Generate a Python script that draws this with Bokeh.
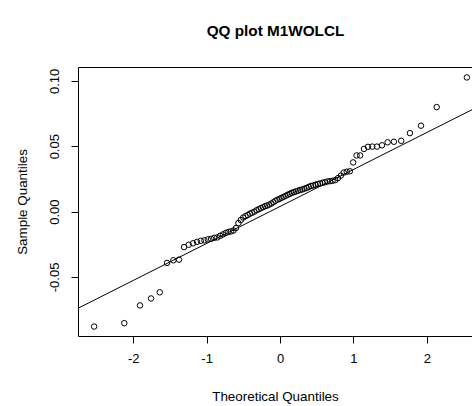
from statistics import NormalDist
import numpy as np
from bokeh.plotting import figure
from bokeh.models import FixedTicker, LinearAxis, Slope, Range1d
from bokeh.embed import file_html
from bokeh.resources import INLINE

title_text = "QQ plot M1WOLCL"
x_label = "Theoretical Quantiles"
y_label = "Sample Quantiles"

# sorted sample values
sample = [
    -0.0876, -0.0850, -0.0714, -0.0661, -0.0614, -0.0389, -0.0369, -0.0364, -0.0268, -0.0250,
    -0.0239, -0.0228, -0.0220, -0.0216, -0.0209, -0.0205, -0.0197, -0.0194, -0.0182, -0.0171,
    -0.0160, -0.0152, -0.0148, -0.0141, -0.0122, -0.0084, -0.0061, -0.0042, -0.0031, -0.0023,
    -0.0012, -0.0005, 0.0003, 0.0014, 0.0022, 0.0030, 0.0037, 0.0045, 0.0050, 0.0057,
    0.0065, 0.0075, 0.0086, 0.0094, 0.0101, 0.0109, 0.0116, 0.0124, 0.0132, 0.0139,
    0.0147, 0.0152, 0.0158, 0.0163, 0.0169, 0.0173, 0.0179, 0.0185, 0.0192, 0.0200,
    0.0203, 0.0209, 0.0215, 0.0219, 0.0224, 0.0228, 0.0234, 0.0236, 0.0239, 0.0245,
    0.0260, 0.0279, 0.0302, 0.0309, 0.0312, 0.0380, 0.0433, 0.0433, 0.0483, 0.0499,
    0.0501, 0.0501, 0.0511, 0.0534, 0.0538, 0.0545, 0.0604, 0.0661, 0.0803, 0.1030,
]

x_ticks = [-2, -1, 0, 1, 2]
x_tick_labels = ["-2", "-1", "0", "1", "2"]
y_ticks = [-0.05, 0.0, 0.05, 0.10]
y_tick_labels = ["-0.05", "0.00", "0.05", "0.10"]

# theoretical normal quantiles (as R's qqnorm / ppoints)
n = len(sample)
a = 0.375 if n <= 10 else 0.5
nd = NormalDist()
theo = [nd.inv_cdf((i + 1 - a) / (n + 1 - 2 * a)) for i in range(n)]

# qqline through the quartiles
q1, q3 = np.quantile(sample, [0.25, 0.75])
z1, z3 = nd.inv_cdf(0.25), nd.inv_cdf(0.75)
slope = (q3 - q1) / (z3 - z1)
intercept = q1 - slope * z1

FONT = "Liberation Sans"

p = figure(width=472, height=406, output_backend="svg", toolbar_location=None,
           x_range=Range1d(-2.752, 2.616), y_range=Range1d(-0.0952, 0.1106),
           min_border_left=78, min_border_right=0, min_border_top=67, min_border_bottom=67,
           background_fill_color="white", border_fill_color="white")
p.outline_line_color = None
p.grid.visible = False

p.title.text = title_text
p.title.align = "center"
p.title.offset = 6
p.title.text_font = FONT
p.title.text_font_size = "15.3px"
p.title.text_font_style = "bold"
p.title.text_color = "black"

for ax in (p.xaxis[0], p.yaxis[0]):
    ax.axis_line_color = "black"
    ax.major_tick_line_color = "black"
    ax.minor_tick_line_color = None
    ax.major_tick_in = 0
    ax.major_tick_out = 7
    ax.major_label_text_font = FONT
    ax.major_label_text_font_size = "13px"
    ax.major_label_text_color = "black"
    ax.axis_label_text_font = FONT
    ax.axis_label_text_font_size = "13.4px"
    ax.axis_label_text_font_style = "normal"
    ax.axis_label_text_color = "black"

p.xaxis[0].ticker = FixedTicker(ticks=x_ticks)
p.xaxis[0].major_label_overrides = dict(zip(x_ticks, x_tick_labels))
p.xaxis[0].axis_label = x_label
p.xaxis[0].major_label_standoff = 10
p.xaxis[0].axis_label_standoff = 23

p.yaxis[0].ticker = FixedTicker(ticks=y_ticks)
p.yaxis[0].major_label_overrides = dict(zip(y_ticks, y_tick_labels))
p.yaxis[0].axis_label = y_label
p.yaxis[0].major_label_orientation = "vertical"
p.yaxis[0].major_label_standoff = 12
p.yaxis[0].axis_label_standoff = 18

# top border of the box
top = LinearAxis(major_tick_line_color=None, minor_tick_line_color=None,
                 major_label_text_color=None, axis_line_color="black",
                 ticker=FixedTicker(ticks=[0]), major_label_text_font_size="1px",
                 axis_label=".", axis_label_text_color=None,
                 axis_label_text_font_size="10px", axis_label_standoff=7)
p.add_layout(top, "above")

p.add_layout(Slope(gradient=slope, y_intercept=intercept, line_color="black", line_width=1))

p.scatter(theo, sample, marker="circle", size=5.5, fill_color=None,
          line_color="black", line_width=1)

open("out.html", "w").write(file_html(p, INLINE))
